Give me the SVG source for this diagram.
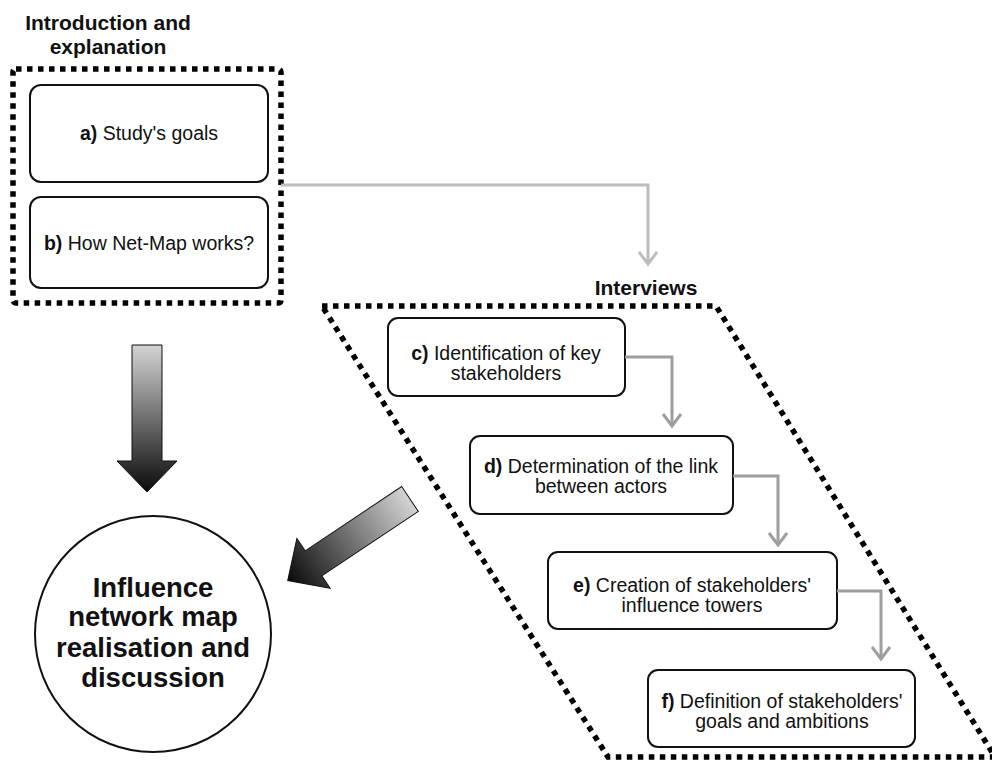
<svg xmlns="http://www.w3.org/2000/svg" width="992" height="760" viewBox="0 0 992 760">
<style>
  text { font-family: "Liberation Sans", Arial, sans-serif; fill: #111; }
  .title { font-size: 21px; font-weight: bold; text-anchor: middle; }
  .lbl { font-size: 19.5px; text-anchor: middle; }
  .b { font-weight: bold; }
  .big { font-size: 27.5px; font-weight: bold; text-anchor: middle; }
  .box { fill: #fff; stroke: #111; stroke-width: 2; }
  .dots { fill: none; stroke: #000; stroke-width: 5.5; stroke-dasharray: 5.5 5.5; }
  .conn1 { fill: none; stroke: #bdbdbd; stroke-width: 3; }
  .conn2 { fill: none; stroke: #9e9e9e; stroke-width: 3; }
  .bigarrow { stroke: #111; stroke-width: 1; }
</style>
<defs>
  <marker id="arrL" viewBox="0 0 20 20" refX="17" refY="10" markerWidth="20" markerHeight="20" markerUnits="userSpaceOnUse" orient="auto">
    <path d="M5,1 L17,10 L5,19" fill="none" stroke="#bdbdbd" stroke-width="3"/>
  </marker>
  <marker id="arrD" viewBox="0 0 20 20" refX="17" refY="10" markerWidth="20" markerHeight="20" markerUnits="userSpaceOnUse" orient="auto">
    <path d="M5,1 L17,10 L5,19" fill="none" stroke="#9e9e9e" stroke-width="3"/>
  </marker>
  <linearGradient id="grad" gradientUnits="userSpaceOnUse" x1="0" y1="0" x2="0" y2="147">
    <stop offset="0" stop-color="#d4d4d4"/>
    <stop offset="1" stop-color="#0a0a0a"/>
  </linearGradient>
  <path id="fat" d="M-15,0 L15,0 L15,116 L30,116 L0,147 L-30,116 L-15,116 Z"/>
</defs>

<g id="intro-group">
  <rect class="dots" x="13" y="69" width="268" height="234" rx="3"/>
  <text class="title" x="108" y="30">Introduction and</text>
  <text class="title" x="108" y="54">explanation</text>
</g>

<g id="node-a">
  <rect class="box" x="30" y="85" width="238" height="97" rx="11"/>
  <text class="lbl" x="149" y="140"><tspan class="b">a)</tspan> Study's goals</text>
</g>

<g id="node-b">
  <rect class="box" x="30" y="197" width="238" height="91" rx="11"/>
  <text class="lbl" x="149" y="250"><tspan class="b">b)</tspan> How Net-Map works?</text>
</g>

<g id="interviews-group">
  <path class="dots" d="M322,306 L716,306 L995,757 L608,757 Z"/>
  <text class="title" x="646" y="295">Interviews</text>
</g>

<g id="node-c">
  <rect class="box" x="388" y="318" width="237" height="78" rx="10"/>
  <text class="lbl" x="506" y="360"><tspan class="b">c)</tspan> Identification of key</text>
  <text class="lbl" x="506" y="380">stakeholders</text>
</g>

<g id="node-d">
  <rect class="box" x="470" y="436" width="263" height="78" rx="10"/>
  <text class="lbl" x="601" y="473"><tspan class="b">d)</tspan> Determination of the link</text>
  <text class="lbl" x="601" y="493">between actors</text>
</g>

<g id="node-e">
  <rect class="box" x="548" y="552" width="289" height="77" rx="10"/>
  <text class="lbl" x="692" y="592"><tspan class="b">e)</tspan> Creation of stakeholders'</text>
  <text class="lbl" x="692" y="612">influence towers</text>
</g>

<g id="node-f">
  <rect class="box" x="648" y="670" width="267" height="77" rx="10"/>
  <text class="lbl" x="782" y="708"><tspan class="b">f)</tspan> Definition of stakeholders'</text>
  <text class="lbl" x="782" y="728">goals and ambitions</text>
</g>

<g id="node-result">
  <circle cx="153" cy="634" r="118" fill="#fff" stroke="#111" stroke-width="2"/>
  <text class="big" x="153" y="597">Influence</text>
  <text class="big" x="153" y="626">network map</text>
  <text class="big" x="153" y="657">realisation and</text>
  <text class="big" x="153" y="687">discussion</text>
</g>

<g id="connectors">
  <path class="conn1" d="M281,185 L648,185 L648,264" marker-end="url(#arrL)"/>
  <path class="conn2" d="M625,357 L672,357 L672,426" marker-end="url(#arrD)"/>
  <path class="conn2" d="M733,476 L778,476 L778,545" marker-end="url(#arrD)"/>
  <path class="conn2" d="M837,591 L881,591 L881,659" marker-end="url(#arrD)"/>
  <use href="#fat" class="bigarrow" fill="url(#grad)" transform="translate(147,345)"/>
  <use href="#fat" class="bigarrow" fill="url(#grad)" transform="translate(410,499) rotate(56.3)"/>
</g>
</svg>
